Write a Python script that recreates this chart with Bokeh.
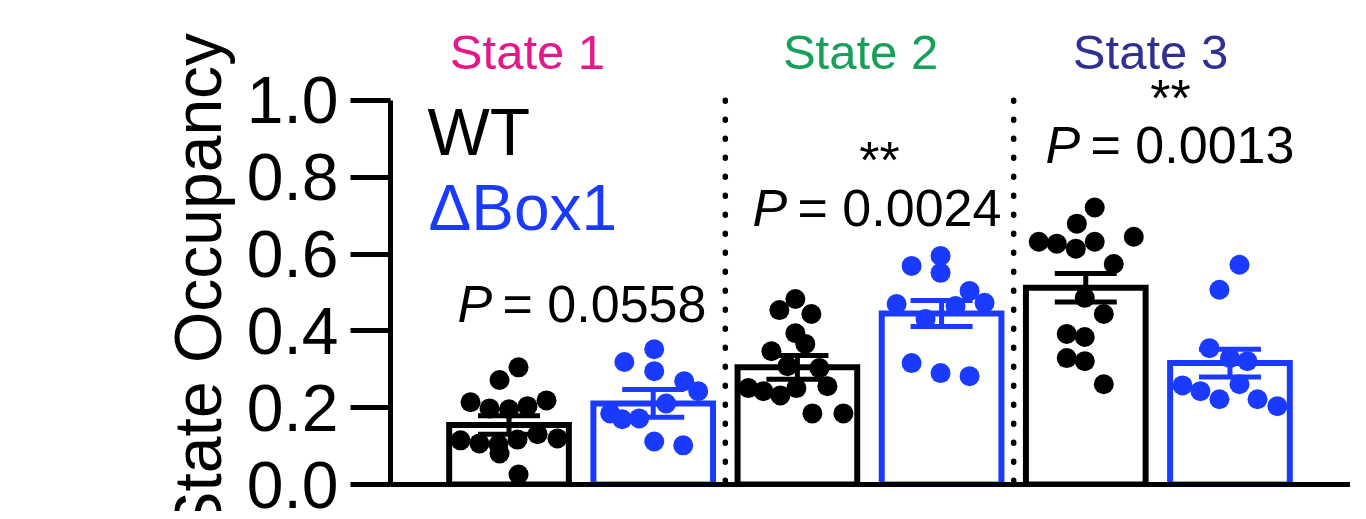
from bokeh.plotting import figure
from bokeh.models import Range1d, Label, FixedTicker, ColumnDataSource, Title
from bokeh.embed import file_html
from bokeh.resources import INLINE

# ---------------- data ----------------
groups = ["WT State 1", "ΔBox1 State 1", "WT State 2", "ΔBox1 State 2", "WT State 3", "ΔBox1 State 3"]
group_x = [0, 1, 2, 3, 4, 5]
means = [0.155, 0.211, 0.305, 0.445, 0.512, 0.316]
sems = [0.024, 0.036, 0.031, 0.034, 0.037, 0.036]

wt_s1 = [0.305, 0.272, 0.214, 0.219, 0.198, 0.196, 0.204, 0.115, 0.107, 0.104, 0.117, 0.131, 0.120, 0.081, 0.026]
wt_s1_jit = [0.066, -0.066, -0.267, 0.26, -0.135, 0.0, 0.128, -0.336, -0.205, -0.073, 0.059, 0.198, 0.336, -0.066, 0.066]
ko_s1 = [0.352, 0.319, 0.295, 0.269, 0.243, 0.211, 0.185, 0.170, 0.172, 0.112, 0.102]
ko_s1_jit = [0.007, -0.2, 0.007, 0.215, 0.312, 0.09, -0.298, -0.215, -0.097, 0.007, 0.208]
wt_s2 = [0.483, 0.454, 0.444, 0.394, 0.366, 0.347, 0.308, 0.303, 0.251, 0.243, 0.232, 0.251, 0.256, 0.185, 0.185]
wt_s2_jit = [-0.014, -0.125, 0.097, -0.014, 0.055, -0.18, -0.069, 0.153, -0.34, -0.236, -0.118, -0.007, 0.208, 0.104, 0.319]
ko_s2 = [0.595, 0.569, 0.551, 0.504, 0.470, 0.473, 0.465, 0.431, 0.316, 0.290, 0.282]
ko_s2_jit = [-0.007, -0.208, -0.007, 0.194, -0.312, 0.298, 0.097, -0.111, -0.208, -0.007, 0.194]
wt_s3 = [0.721, 0.679, 0.632, 0.627, 0.614, 0.632, 0.645, 0.574, 0.486, 0.444, 0.392, 0.384, 0.329, 0.321, 0.261]
wt_s3_jit = [0.062, -0.062, -0.326, -0.201, -0.069, 0.062, 0.333, 0.194, -0.007, 0.125, -0.132, -0.007, -0.132, -0.007, 0.125]
ko_s3 = [0.572, 0.507, 0.355, 0.329, 0.321, 0.258, 0.243, 0.222, 0.261, 0.222, 0.204]
ko_s3_jit = [0.066, -0.073, -0.142, 0.0, 0.121, -0.329, -0.205, -0.073, 0.066, 0.191, 0.329]

points = [wt_s1, ko_s1, wt_s2, ko_s2, wt_s3, ko_s3]
jitters = [wt_s1_jit, ko_s1_jit, wt_s2_jit, ko_s2_jit, wt_s3_jit, ko_s3_jit]

y_ticks = [0.0, 0.2, 0.4, 0.6, 0.8, 1.0]
y_tick_labels = ["0.0", "0.2", "0.4", "0.6", "0.8", "1.0"]
y_title = "State Occupancy"

state_titles = ["State 1", "State 2", "State 3"]
legend_names = ["WT", "ΔBox1"]
p_values = ["0.0558", "0.0024", "0.0013"]
stars = ["", "**", "**"]
separators = [1.5, 3.5]

# ---------------- styles ----------------
BLACK = "#000000"
BLUE = "#1a3bff"
STATE_COLORS = ["#e5178a", "#16a05a", "#2e3192"]
group_colors = [BLACK, BLUE, BLACK, BLUE, BLACK, BLUE]
FONT = "Liberation Sans"

p = figure(width=1350, height=511, output_backend="svg", toolbar_location=None,
           x_range=Range1d(-0.822, 5.836), y_range=Range1d(0, 1.26),
           min_border_left=390, min_border_right=0, min_border_top=0, min_border_bottom=27)
p.outline_line_color = None
p.grid.visible = False
p.background_fill_color = "white"

# bars
bar_src = ColumnDataSource(dict(x=group_x, top=means, color=group_colors))
p.vbar(x="x", top="top", bottom=0, width=0.83, source=bar_src, fill_color="white",
       line_color="color", line_width=6, line_join="miter")

# separators (dotted)
p.segment(x0=separators, y0=[1.0] * len(separators), x1=separators, y1=[0.0] * len(separators),
          line_color=BLACK, line_width=5.5, line_dash="1 18", line_cap="round")

# individual points
for gx, vals, jit, col in zip(group_x, points, jitters, group_colors):
    p.scatter(x=[gx + j for j in jit], y=vals, size=20, fill_color=col, line_color=col, line_width=0)

# error bars (mean ± SEM)
lo = [m - s for m, s in zip(means, sems)]
hi = [m + s for m, s in zip(means, sems)]
cap = 0.215
p.segment(x0=group_x, y0=lo, x1=group_x, y1=hi, line_color=group_colors, line_width=5)
p.segment(x0=[x - cap for x in group_x], y0=hi, x1=[x + cap for x in group_x], y1=hi,
          line_color=group_colors, line_width=5)
p.segment(x0=[x - cap for x in group_x], y0=lo, x1=[x + cap for x in group_x], y1=lo,
          line_color=group_colors, line_width=5)

# axes
yax = p.yaxis[0]
yax.bounds = (0, 1)
yax.ticker = FixedTicker(ticks=y_ticks)
yax.major_label_overrides = {t: l for t, l in zip(y_ticks, y_tick_labels)}
yax.major_tick_out = 40
yax.major_tick_in = 0
yax.minor_tick_line_color = None
yax.major_tick_line_width = 5
yax.axis_line_width = 5
yax.major_label_standoff = 12
yax.major_label_text_font = FONT
yax.major_label_text_font_size = "66px"
yax.major_label_text_color = BLACK

xax = p.xaxis[0]
xax.ticker = FixedTicker(ticks=[])
xax.major_tick_line_color = None
xax.minor_tick_line_color = None
xax.major_label_text_font_size = "0px"
xax.axis_line_width = 5

# y-axis title (side title; starts below the canvas edge as in the reference)
p.add_layout(Title(text=y_title, align="left", offset=-51, standoff=17,
                   text_font=FONT, text_font_size="66px", text_font_style="normal",
                   text_color=BLACK), "left")

# state titles
title_x = [0.128, 2.438, 4.449]
for t, tx, c in zip(state_titles, title_x, STATE_COLORS):
    p.add_layout(Label(x=tx, y=1.125, text=t, text_align="center", text_baseline="middle",
                       text_font=FONT, text_font_size="49px", text_color=c))

# legend texts
p.add_layout(Label(x=-0.565, y=0.917, text=legend_names[0], text_align="left", text_baseline="middle",
                   text_font=FONT, text_font_size="66px", text_color=BLACK))
p.add_layout(Label(x=-0.558, y=0.719, text=legend_names[1], text_align="left", text_baseline="middle",
                   text_font=FONT, text_font_size="64px", text_color=BLUE))

# P values and stars
p_left = [-0.357, 1.689, 3.721]
p_mid = [0.471, 0.721, 0.885]
star_x = [0.0, 2.569, 4.587]
star_mid = [0.0, 0.844, 1.005]
for pv, px, pm, st, sx, sm in zip(p_values, p_left, p_mid, stars, star_x, star_mid):
    p.add_layout(Label(x=px, y=pm, text="P", text_align="left", text_baseline="middle",
                       text_font=FONT, text_font_size="52px", text_font_style="italic", text_color=BLACK))
    p.add_layout(Label(x=px, y=pm, x_offset=45, text="= " + pv, text_align="left",
                       text_baseline="middle", text_font=FONT, text_font_size="52px", text_color=BLACK))
    if st:
        p.add_layout(Label(x=sx, y=sm, text=st, text_align="center", text_baseline="middle",
                           text_font=FONT, text_font_size="52px", text_color=BLACK))

open("out.html", "w").write(file_html(p, INLINE))
